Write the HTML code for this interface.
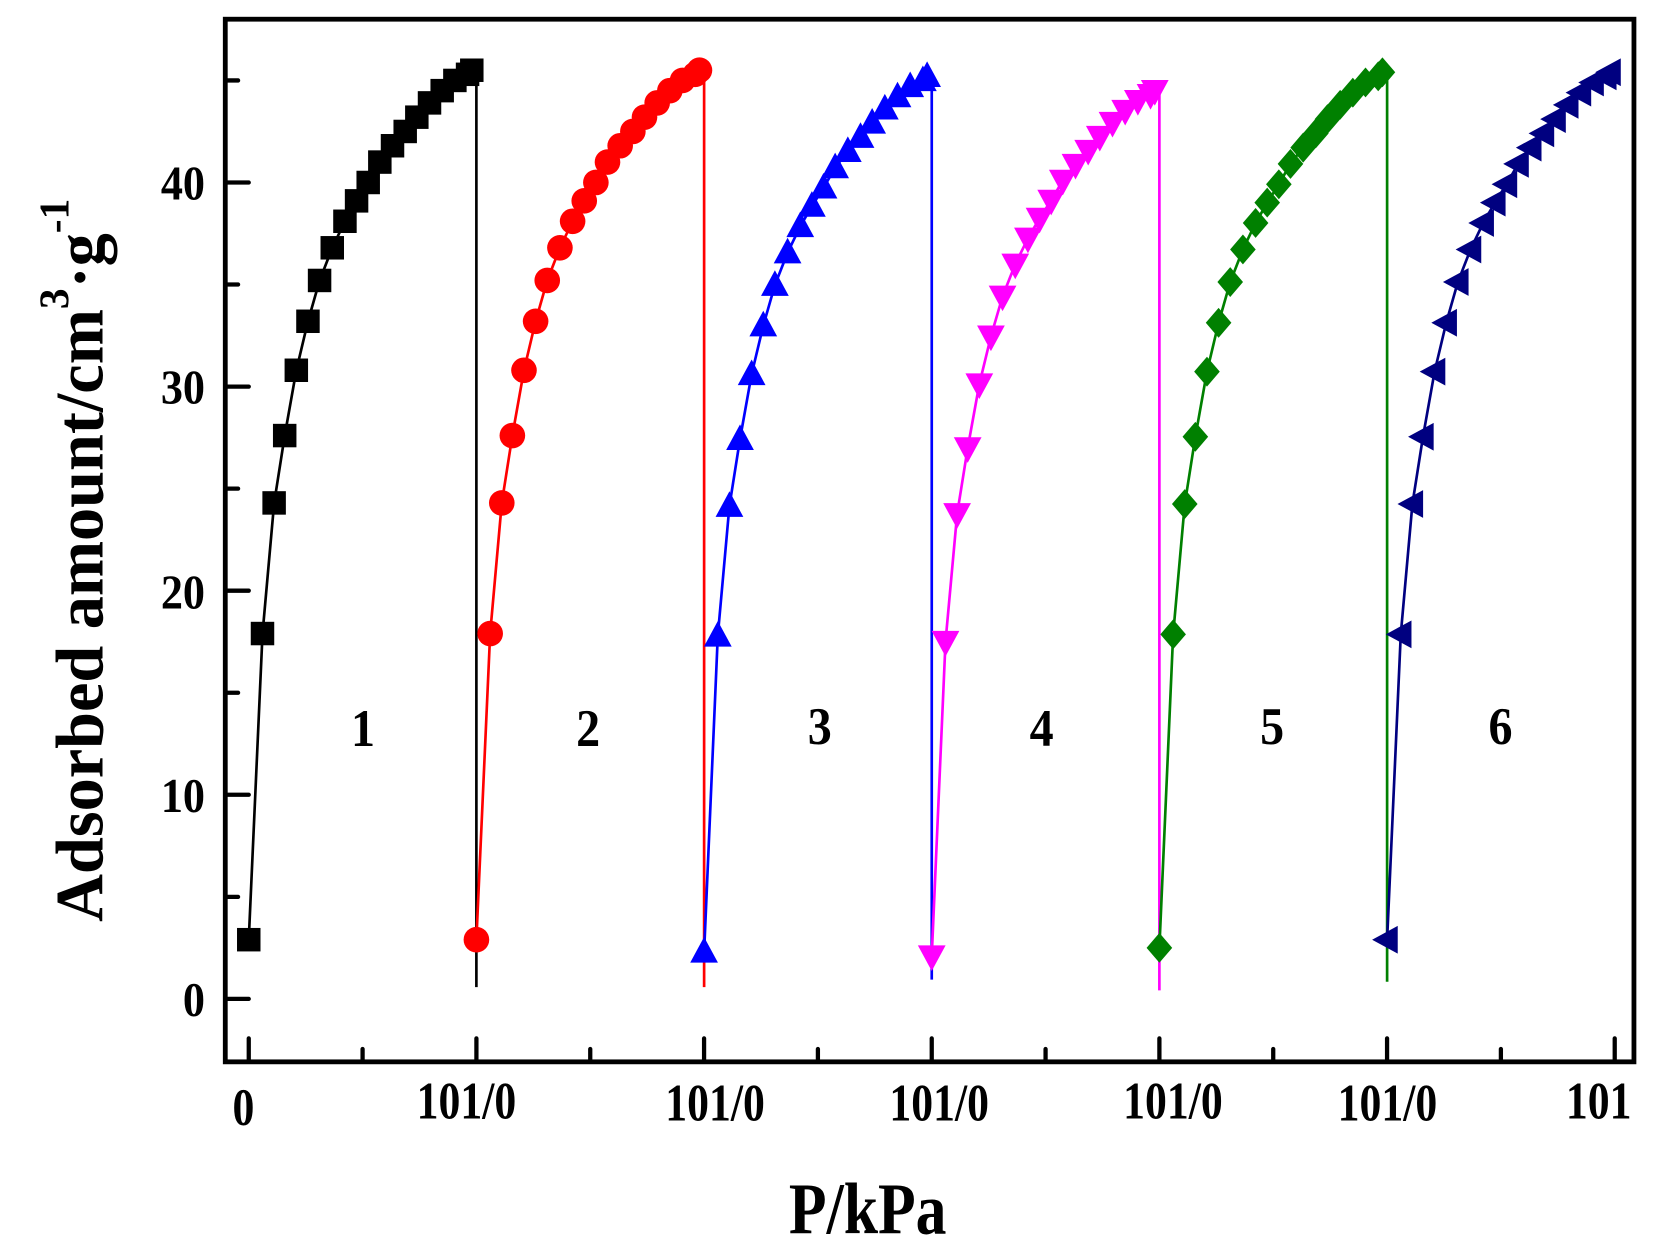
<!DOCTYPE html>
<html><head><meta charset="utf-8"><style>
html,body{margin:0;padding:0;background:#fff;}
svg{display:block;}
text{font-family:"Liberation Serif",serif;font-weight:bold;fill:#000;}
</style></head><body>
<svg id="s" width="1665" height="1255" viewBox="0 0 1560 1176" xmlns="http://www.w3.org/2000/svg">
<rect x="0" y="0" width="1560" height="1176" fill="#fff"/>
<g id="plot"></g>
<rect x="211" y="18" width="1320" height="977" fill="none" stroke="#000" stroke-width="4.5"/>
<g id="ticks" stroke="#000" stroke-width="4" stroke-linecap="round"></g>
<g font-size="46" text-anchor="end">
<text transform="translate(192,952) scale(0.9,1)">0</text>
<text transform="translate(192,761) scale(0.9,1)">10</text>
<text transform="translate(192,570) scale(0.9,1)">20</text>
<text transform="translate(192,378) scale(0.9,1)">30</text>
<text transform="translate(192,187) scale(0.9,1)">40</text>
</g>
<g font-size="50" text-anchor="middle">
<text transform="translate(228,1054) scale(0.82,1)">0</text>
<text transform="translate(437,1048) scale(0.82,1)">101/0</text>
<text transform="translate(670,1050) scale(0.82,1)">101/0</text>
<text transform="translate(880,1050) scale(0.82,1)">101/0</text>
<text transform="translate(1099,1048) scale(0.82,1)">101/0</text>
<text transform="translate(1300,1050) scale(0.82,1)">101/0</text>
<text transform="translate(1498,1048) scale(0.82,1)">101</text>
</g>
<g font-size="50" text-anchor="middle">
<text transform="translate(340,699) scale(0.9,1)">1</text>
<text transform="translate(551,699) scale(0.9,1)">2</text>
<text transform="translate(768,697) scale(0.9,1)">3</text>
<text transform="translate(976,699) scale(0.9,1)">4</text>
<text transform="translate(1192,697) scale(0.9,1)">5</text>
<text transform="translate(1406,697) scale(0.9,1)">6</text>
</g>
<text transform="translate(813,1156) scale(0.85,1)" font-size="68" text-anchor="middle">P/kPa</text>
<text transform="translate(96,525) rotate(-90) scale(0.97,1)" font-size="64" text-anchor="middle">Adsorbed amount/cm<tspan font-size="40" dy="-32">3</tspan><tspan dy="32">·g</tspan><tspan font-size="40" dy="-32">-1</tspan></text>
</svg>
<script>
var NS="http://www.w3.org/2000/svg";
function el(p,n,a){var e=document.createElementNS(NS,n);for(var k in a)e.setAttribute(k,a[k]);p.appendChild(e);return e;}
var Y=function(v){return 936-v*19.125;};
var t=document.getElementById('ticks');
for(var i=0;i<=12;i++){var x=233+i*213.33/2;var L=(i%2==0)?20:10;el(t,'line',{x1:x,y1:993,x2:x,y2:993-L});}
for(var v=0;v<=45;v+=5){var y=Y(v);var L=(v%10==0)?20:10;el(t,'line',{x1:213,y1:y,x2:213+L,y2:y});}
var offs=[0,13,24,34,45,56,67,79,91,102,113,124,136,148,159,171,183,195,207,211];
var vals=[2.9,17.9,24.3,27.6,30.8,33.2,35.2,36.8,38.1,39.1,40.0,41.0,41.8,42.5,43.2,43.9,44.5,45.0,45.3,45.5];
var series=[
 {c:'#000',m:'sq',top:45.5,bot:925,st:2.9},
 {c:'#ff0000',m:'ci',top:45.5,bot:925,st:2.9},
 {c:'#0000ff',m:'up',top:45.2,bot:918,st:2.3},
 {c:'#ff00ff',m:'dn',top:44.5,bot:928,st:2.1},
 {c:'#008000',m:'di',top:45.4,bot:920,st:2.5},
 {c:'#000080',m:'lt',top:45.4,bot:null,st:2.9}];
var g=document.getElementById('plot');
series.forEach(function(s,k){
 var x0=233+k*213.33;var pts=[];
 for(var i=0;i<offs.length;i++){var v=(i==0)?s.st:vals[i]*s.top/45.5;pts.push([x0+offs[i]*209/211,Y(v)]);}
 var d=pts.map(function(p){return p[0].toFixed(1)+','+p[1].toFixed(1);}).join(' ');
 if(s.bot){var xe=x0+213.33;d+=' '+xe.toFixed(1)+','+pts[pts.length-1][1].toFixed(1)+' '+xe.toFixed(1)+','+s.bot;}
 el(g,'polyline',{points:d,fill:'none',stroke:s.c,'stroke-width':2.5});
 pts.forEach(function(p){var x=p[0],y=p[1],r=11;
  if(s.m=='sq')el(g,'rect',{x:x-r,y:y-r,width:2*r,height:2*r,fill:s.c});
  else if(s.m=='ci')el(g,'circle',{cx:x,cy:y,r:12,fill:s.c});
  else if(s.m=='up')el(g,'polygon',{points:(x)+','+(y-14)+' '+(x-13)+','+(y+10)+' '+(x+13)+','+(y+10),fill:s.c});
  else if(s.m=='dn')el(g,'polygon',{points:(x)+','+(y+14)+' '+(x-13)+','+(y-10)+' '+(x+13)+','+(y-10),fill:s.c});
  else if(s.m=='di')el(g,'polygon',{points:x+','+(y-14)+' '+(x+12)+','+y+' '+x+','+(y+14)+' '+(x-12)+','+y,fill:s.c});
  else el(g,'polygon',{points:(x-14)+','+y+' '+(x+10)+','+(y-13)+' '+(x+10)+','+(y+13),fill:s.c});
 });
});
</script>
</body></html>
